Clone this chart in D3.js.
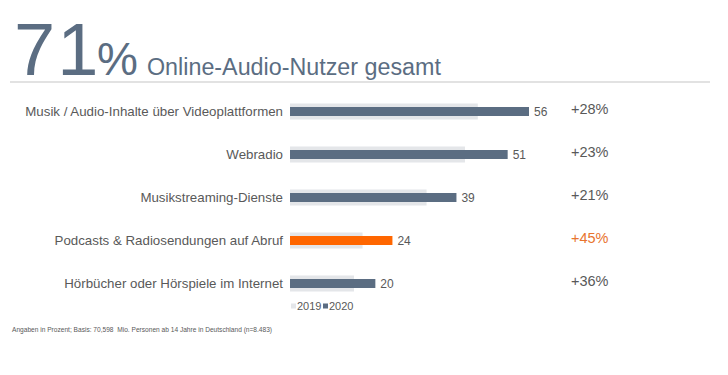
<!DOCTYPE html>
<html>
<head>
<meta charset="utf-8">
<script src="https://cdn.jsdelivr.net/npm/d3@7"></script>
<style>
  body { margin: 0; background: #fff; }
  svg { display: block; font-family: Arial, "Liberation Sans", sans-serif; }
</style>
</head>
<body>
<svg width="728" height="375"></svg>
<script>
var categories = [
  "Musik / Audio-Inhalte über Videoplattformen",
  "Webradio",
  "Musikstreaming-Dienste",
  "Podcasts & Radiosendungen auf Abruf",
  "Hörbücher oder Hörspiele im Internet"
];
var values2019 = [44, 41, 32, 17, 15];
var values2020 = [56, 51, 39, 24, 20];
var growth = ["+28%", "+23%", "+21%", "+45%", "+36%"];
var highlight = [false, false, false, true, false];
var seriesNames = ["2019", "2020"];

var dark = "#5b6d82", light = "#e4e6e9", orange = "#ff6600", orangeText = "#e8742e", grey = "#595959";

var svg = d3.select("svg");

// headline
var head = svg.append("g");
head.append("text").attr("x", 14).attr("y", 75)
  .attr("font-size", 74).attr("letter-spacing", 2).attr("fill", dark).text("71");
head.append("text").attr("x", 97).attr("y", 75)
  .attr("font-size", 46).attr("fill", dark).text("%");
head.append("text").attr("x", 147).attr("y", 75)
  .attr("font-size", 23.3).attr("fill", dark).text("Online-Audio-Nutzer gesamt");
svg.append("line").attr("x1", 10).attr("x2", 710).attr("y1", 82).attr("y2", 82)
  .attr("stroke", "#d9d9d9").attr("stroke-width", 1.5);

var x = d3.scaleLinear().domain([0, 56]).range([290, 529]);
var y = d3.scaleBand().domain(categories).range([90, 305]).padding(0);

var rows = svg.selectAll("g.row").data(categories).join("g").attr("class", "row")
  .attr("transform", function(d) { return "translate(0," + (y(d) + y.bandwidth() / 2) + ")"; });

rows.append("rect")
  .attr("x", x(0)).attr("y", -8)
  .attr("width", function(d, i) { return x(values2019[i]) - x(0); })
  .attr("height", 16).attr("fill", light);

rows.append("rect")
  .attr("x", x(0)).attr("y", -4.5)
  .attr("width", function(d, i) { return x(values2020[i]) - x(0); })
  .attr("height", 9)
  .attr("fill", function(d, i) { return highlight[i] ? orange : dark; });

rows.append("text")
  .attr("x", 283).attr("dy", "0.35em").attr("text-anchor", "end")
  .attr("font-size", 13.3).attr("fill", grey)
  .text(function(d) { return d; });

rows.append("text")
  .attr("x", function(d, i) { return x(values2020[i]) + 5; })
  .attr("dy", "0.38em").attr("font-size", 12).attr("fill", grey)
  .text(function(d, i) { return values2020[i]; });

rows.append("text")
  .attr("x", 571).attr("y", -3).attr("dy", "0.35em")
  .attr("font-size", 14.5)
  .attr("fill", function(d, i) { return highlight[i] ? orangeText : grey; })
  .text(function(d, i) { return growth[i]; });

// legend
var legend = svg.append("g").attr("transform", "translate(291,306)");
var lg = legend.selectAll("g").data(seriesNames).join("g")
  .attr("transform", function(d, i) { return "translate(" + (i * 32) + ",0)"; });
lg.append("rect").attr("x", 0).attr("y", -2.5).attr("width", 5).attr("height", 5)
  .attr("fill", function(d, i) { return i ? dark : light; });
lg.append("text").attr("x", 6).attr("dy", "0.35em").attr("font-size", 11).attr("fill", grey)
  .text(function(d) { return d; });

svg.append("text").attr("x", 12).attr("y", 332)
  .attr("font-size", 6.6).attr("fill", grey)
  .attr("xml:space", "preserve").style("white-space", "pre")
  .text("Angaben in Prozent; Basis: 70,598  Mio. Personen ab 14 Jahre in Deutschland (n=8.483)");
</script>
</body>
</html>
